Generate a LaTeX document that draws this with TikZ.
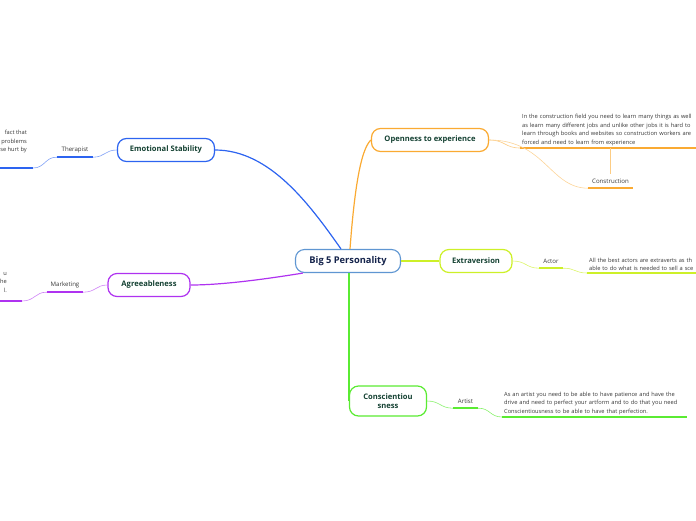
\documentclass[tikz,border=0pt]{standalone}
\usepackage{fontspec}
\setmainfont{Open Sans}
\usetikzlibrary{positioning}
\definecolor{esBlue}   {RGB}{45, 100, 240}
\definecolor{opOrange} {RGB}{250, 170,  50}
\definecolor{exLime}   {RGB}{205, 240,  40}
\definecolor{coGreen}  {RGB}{90,  235,  50}
\definecolor{agPurple} {RGB}{175,  50, 240}
\definecolor{rootBlue} {RGB}{95,  150, 210}
\definecolor{rootText} {RGB}{20,   35,  75}
\definecolor{topText}  {RGB}{20,   65,  50}
\definecolor{leafText} {RGB}{55,   55,  55}

\begin{document}
\begin{tikzpicture}[x=1pt,y=-1pt,
          root/.style={draw=rootBlue,fill=white,rounded corners=9pt,line width=1.1pt,
                       minimum width=105pt,minimum height=23pt,inner sep=0pt,
                       font=\fontsize{9.3}{11}\selectfont\bfseries,text=rootText},
          topic/.style={fill=white,rounded corners=9pt,line width=1.2pt,
                        minimum height=23pt,inner sep=0pt,
                        font=\fontsize{7.6}{9.5}\selectfont\bfseries,text=topText},
          lbl/.style={font=\fontsize{6.1}{7}\selectfont,text=leafText,
                      minimum height=14pt,inner sep=0pt},
          note/.style={font=\fontsize{5.7}{8.7}\selectfont,text=leafText,
                       inner xsep=2pt,inner ysep=2pt},
          thin/.style={line width=0.6pt},
          uline/.style={line width=2pt},
        ]
        \useasboundingbox (0,0) rectangle (696,520);

        % CENTRE AND TOPICS
        \node[root] (big) at (348,261) {Big 5 Personality};
        \node[topic,draw=opOrange,minimum width=117pt] (open) at (430,140) {Openness to experience};
        \node[topic,draw=exLime,minimum width=72pt] (extra) at (476,261) {Extraversion};
        \node[topic,draw=coGreen,minimum width=77pt,minimum height=30pt,align=center]
          (consc) at (388,401) {Conscientiou\\sness};
        \node[topic,draw=esBlue,minimum width=97pt] (emo) at (166,150) {Emotional Stability};
        \node[topic,draw=agPurple,minimum width=82pt] (agree) at (149,285) {Agreeableness};

        \draw[esBlue,line width=1.2pt] ([xshift=-7pt]big.north)
          .. controls (310,205) and (270,150) .. (emo.east);
        \draw[opOrange,line width=1.2pt] ([xshift=2pt]big.north)
          .. controls (354,195) and (360,150) .. (open.west);
        \draw[exLime,line width=1.2pt] (big.east) -- (extra.west);
        \draw[coGreen,line width=1.2pt] (big.south -| consc.west) -- (consc.west);
        \draw[agPurple,line width=1.2pt] ([xshift=-45pt]big.south)
          .. controls (260,280) and (220,285) .. (agree.east);

        % OPENNESS
        \node[note,anchor=south west,text width=180pt,align=left] (opTxt) at (520,148)
          {In the construction field you need to learn many things as well\\
           as learn many different jobs and unlike other jobs it is hard to\\
           learn through books and websites so construction workers are\\
           forced and need to learn from experience};
        \node[lbl,minimum width=45pt] (constr) at (610.5,181) {Construction};
        \draw[opOrange,uline] (opTxt.south west) -- (opTxt.south east);
        \draw[opOrange,uline] (constr.south west) -- (constr.south east);
        \draw[opOrange!60,thin] (open.east) .. controls (505,140) and (505,148) .. (opTxt.south west);
        \draw[opOrange!50,thin] (open.east) .. controls (545,140) and (550,188) .. (constr.south west);
        \draw[opOrange!60,thin] (constr.north) -- (constr.north |- opTxt.south);

        % EXTRAVERSION
        \node[lbl,minimum width=24pt] (actor) at (551,261) {Actor};
        \node[note,anchor=south west,text width=150pt,align=left] (acTxt) at (587,273)
          {All the best actors are extraverts as th\\
           able to do what is needed to sell a sce};
        \draw[exLime,uline] (actor.south west) -- (actor.south east);
        \draw[exLime,uline] (acTxt.south west) -- (acTxt.south east);
        \draw[exLime!70,thin] (extra.east) .. controls (526,261) and (526,268) .. (actor.south west);
        \draw[exLime!70,thin] (actor.south east) .. controls (575,268) and (575,273) .. (acTxt.south west);

        % CONSCIENTIOUSNESS
        \node[lbl,minimum width=25pt] (artist) at (465.5,401) {Artist};
        \node[note,anchor=south west,text width=181pt,align=left] (arTxt) at (502,417)
          {As an artist you need to be able to have patience and have the\\
           drive and need to perfect your artform and to do that you need\\
           Conscientiousness to be able to have that perfection.};
        \draw[coGreen,uline] (artist.south west) -- (artist.south east);
        \draw[coGreen,uline] (arTxt.south west) -- (arTxt.south east);
        \draw[coGreen!70,thin] (consc.east) .. controls (440,401) and (440,408) .. (artist.south west);
        \draw[coGreen!70,thin] (artist.south east) .. controls (490,408) and (490,417) .. (arTxt.south west);

        % EMOTIONAL STABILITY
        \node[lbl,minimum width=36pt] (ther) at (75,150) {Therapist};
        \node[note,anchor=north east,align=right,inner sep=0pt] (thTxt) at (27,130)
          {fact that\\problems\\se hurt by};
        \coordinate (thLine) at (33,168);
        \draw[esBlue,uline] (ther.south west) -- (ther.south east);
        \draw[esBlue,uline] (thLine) -- ++(-40,0);
        \draw[esBlue!60,thin] (emo.west) .. controls (105,150) and (105,157) .. (ther.south east);
        \draw[esBlue!60,thin] (ther.south west) .. controls (45,157) and (45,168) .. (thLine);

        % AGREEABLENESS
        \node[lbl,minimum width=36pt] (mkt) at (65,285) {Marketing};
        \node[note,anchor=north east,align=right,inner sep=0pt] (mkTxt) at (7,272)
          {u\\he\\l.};
        \coordinate (mkLine) at (22,301);
        \draw[agPurple,uline] (mkt.south west) -- (mkt.south east);
        \draw[agPurple,uline] (mkLine) -- ++(-30,0);
        \draw[agPurple!60,thin] (agree.west) .. controls (96,285) and (96,292) .. (mkt.south east);
        \draw[agPurple!60,thin] (mkt.south west) .. controls (35,292) and (35,301) .. (mkLine);
      \end{tikzpicture}
\end{document}
